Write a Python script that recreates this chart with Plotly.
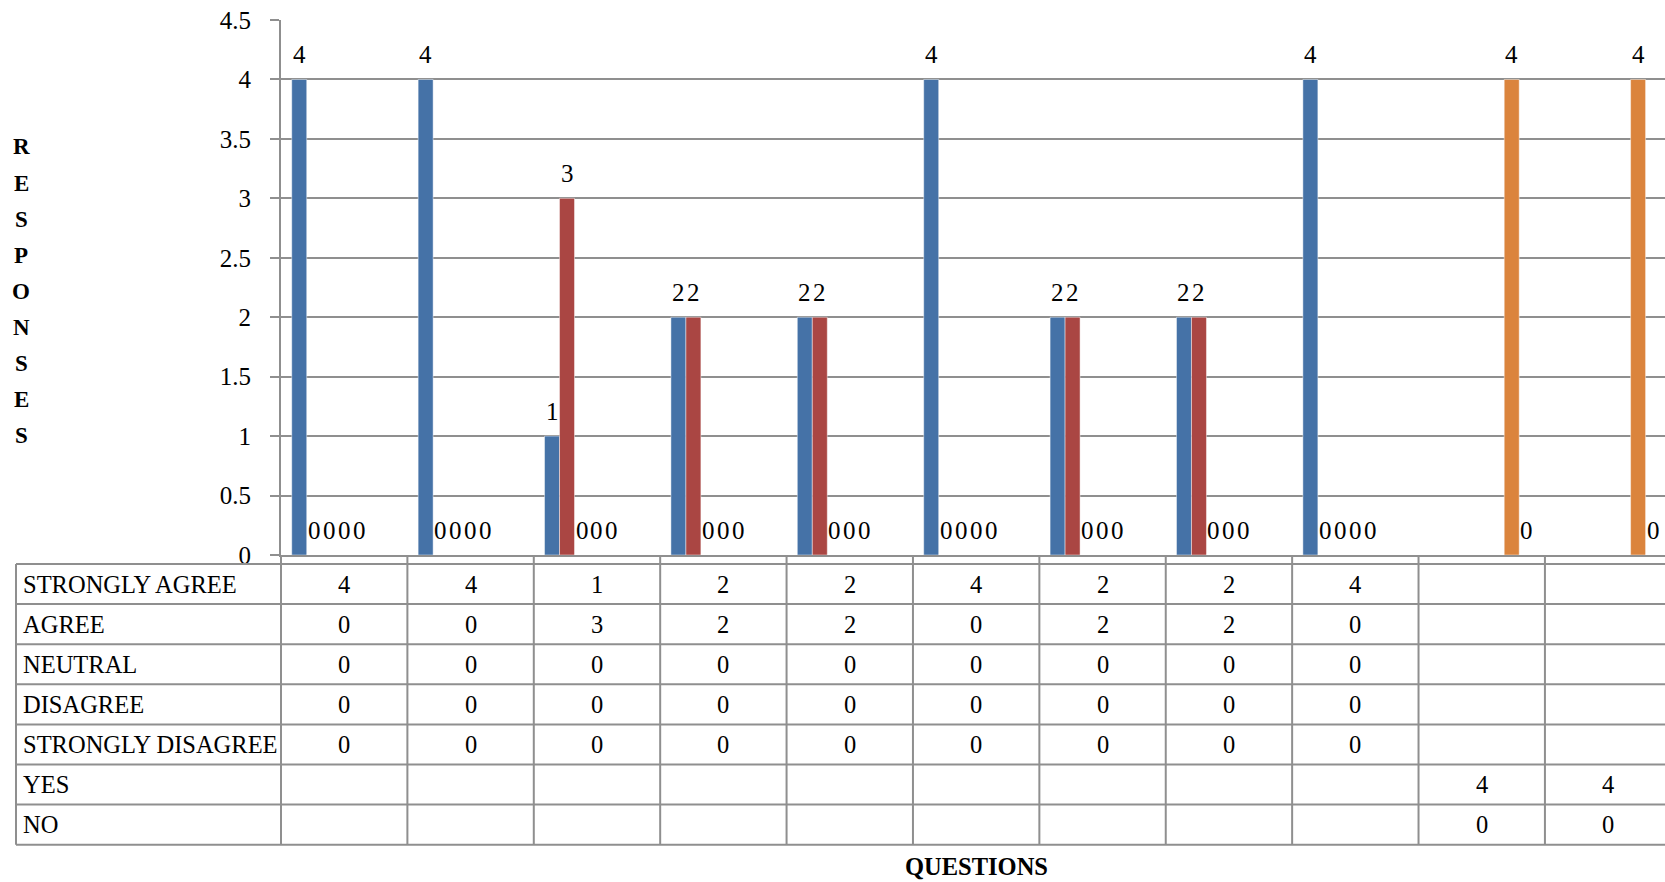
import plotly.graph_objects as go

# data (None = empty cell)
questions = ['Q1', 'Q2', 'Q3', 'Q4', 'Q5', 'Q6', 'Q7', 'Q8', 'Q9', 'Q10', 'Q11']
strongly_agree = [4, 4, 1, 2, 2, 4, 2, 2, 4, None, None]
agree = [0, 0, 3, 2, 2, 0, 2, 2, 0, None, None]
neutral = [0, 0, 0, 0, 0, 0, 0, 0, 0, None, None]
disagree = [0, 0, 0, 0, 0, 0, 0, 0, 0, None, None]
strongly_disagree = [0, 0, 0, 0, 0, 0, 0, 0, 0, None, None]
yes = [None, None, None, None, None, None, None, None, None, 4, 4]
no = [None, None, None, None, None, None, None, None, None, 0, 0]

series = [
  ('STRONGLY AGREE', strongly_agree, '#4572A7'),
  ('AGREE', agree, '#AA4643'),
  ('NEUTRAL', neutral, '#89A54E'),
  ('DISAGREE', disagree, '#80699B'),
  ('STRONGLY DISAGREE', strongly_disagree, '#3D96AE'),
  ('YES', yes, '#DB843D'),
  ('NO', no, '#92A8CD'),
]

FONT = 'Liberation Serif'
GRID = '#8f8f8f'
W, H = 1665, 882
L, T, B = 281, 20, 882 - 555     # plot area: x 281..1665, y 20..555
PW, PH = W - L, H - T - B
BARGAP = 0.17
ROW_TOP, ROW_H = 564, 40.1
TABLE_LEFT = 16

def py(pix):
  # pixel row -> paper y
  return (555 - pix) / PH

def px(pix):
  # pixel column -> paper x
  return (pix - L) / PW

def note(text, x, y, size, xref = 'paper', yref = 'paper', **kw):
  d = dict(x = x, y = y, xref = xref, yref = yref, text = text, showarrow = False,
           xanchor = 'center', yanchor = 'middle',
           font = {'family': FONT, 'size': size, 'color': 'black'})
  d.update(kw)
  return d

fig = go.Figure()
for name, vals, color in series:
  fig.add_trace(go.Bar(
    name = name, x = questions, y = vals,
    marker = {'color': color, 'line': {'color': 'rgba(255,255,255,0.45)', 'width': 1}},
  ))

annotations = []
shapes = []

# data labels above each bar (including zero bars)
n = len(series)
bw = (1 - BARGAP) / n
for j, (name, vals, color) in enumerate(series):
  for i, v in enumerate(vals):
    if v is None:
      continue
    annotations.append(note(str(v), i + (j - (n - 1) / 2) * bw, v, 25, 'x', 'y',
                            yanchor = 'bottom', yshift = 9))

# data table under the chart
for r, (name, vals, color) in enumerate(series):
  yc = py(ROW_TOP + ROW_H * (r + 0.5))
  annotations.append(note(name, px(TABLE_LEFT + 5), yc, 24.5, xanchor = 'left'))
  for i, v in enumerate(vals):
    if v is None:
      continue
    annotations.append(note(str(v), i, yc, 24.5, 'x', 'paper'))

line = {'color': GRID, 'width': 2}
for r in range(n + 1):
  yy = py(ROW_TOP + ROW_H * r)
  shapes.append(dict(type = 'line', xref = 'paper', yref = 'paper',
                     x0 = px(TABLE_LEFT), x1 = 1, y0 = yy, y1 = yy, line = line))
table_bottom = py(ROW_TOP + ROW_H * n)
shapes.append(dict(type = 'line', xref = 'paper', yref = 'paper',
                   x0 = px(TABLE_LEFT), x1 = px(TABLE_LEFT), y0 = py(ROW_TOP), y1 = table_bottom, line = line))
shapes.append(dict(type = 'line', xref = 'paper', yref = 'paper',
                   x0 = 0, x1 = 0, y0 = 0, y1 = table_bottom, line = line))
for i in range(len(questions)):
  shapes.append(dict(type = 'line', xref = 'x', yref = 'paper',
                     x0 = i + 0.5, x1 = i + 0.5, y0 = 0, y1 = table_bottom, line = line))

# axis titles
for k, ch in enumerate('RESPONSES'):
  annotations.append(note('<b>%s</b>' % ch, px(21), py(147 + 36.1 * k), 23))
annotations.append(note('<b>QUESTIONS</b>', px(976), py(867), 24.5))

fig.update_layout(
  width = W, height = H,
  margin = {'l': L, 'r': 0, 't': T, 'b': B, 'pad': 0},
  paper_bgcolor = 'white', plot_bgcolor = 'white',
  barmode = 'group', bargap = BARGAP, bargroupgap = 0,
  showlegend = False,
  font = {'family': FONT, 'size': 25, 'color': 'black'},
  annotations = annotations, shapes = shapes,
  xaxis = {
    'range': [-0.5, 10.45], 'showticklabels': False, 'showgrid': False,
    'showline': True, 'linecolor': GRID, 'linewidth': 2, 'zeroline': False, 'ticks': '',
  },
  yaxis = {
    'range': [0, 4.5], 'dtick': 0.5, 'showgrid': True, 'gridcolor': GRID, 'gridwidth': 2,
    'showline': True, 'linecolor': GRID, 'linewidth': 2, 'zeroline': False,
    'ticks': 'outside', 'ticklen': 9, 'tickwidth': 2, 'tickcolor': GRID,
    'ticklabelstandoff': 14, 'tickfont': {'family': FONT, 'size': 25, 'color': 'black'},
  },
)

# page sits flush with the window, no scrollbars, no modebar
fig.write_html('out.html', config = {'displayModeBar': False},
               post_script = "document.body.style.margin='0';document.body.style.overflow='hidden';")
